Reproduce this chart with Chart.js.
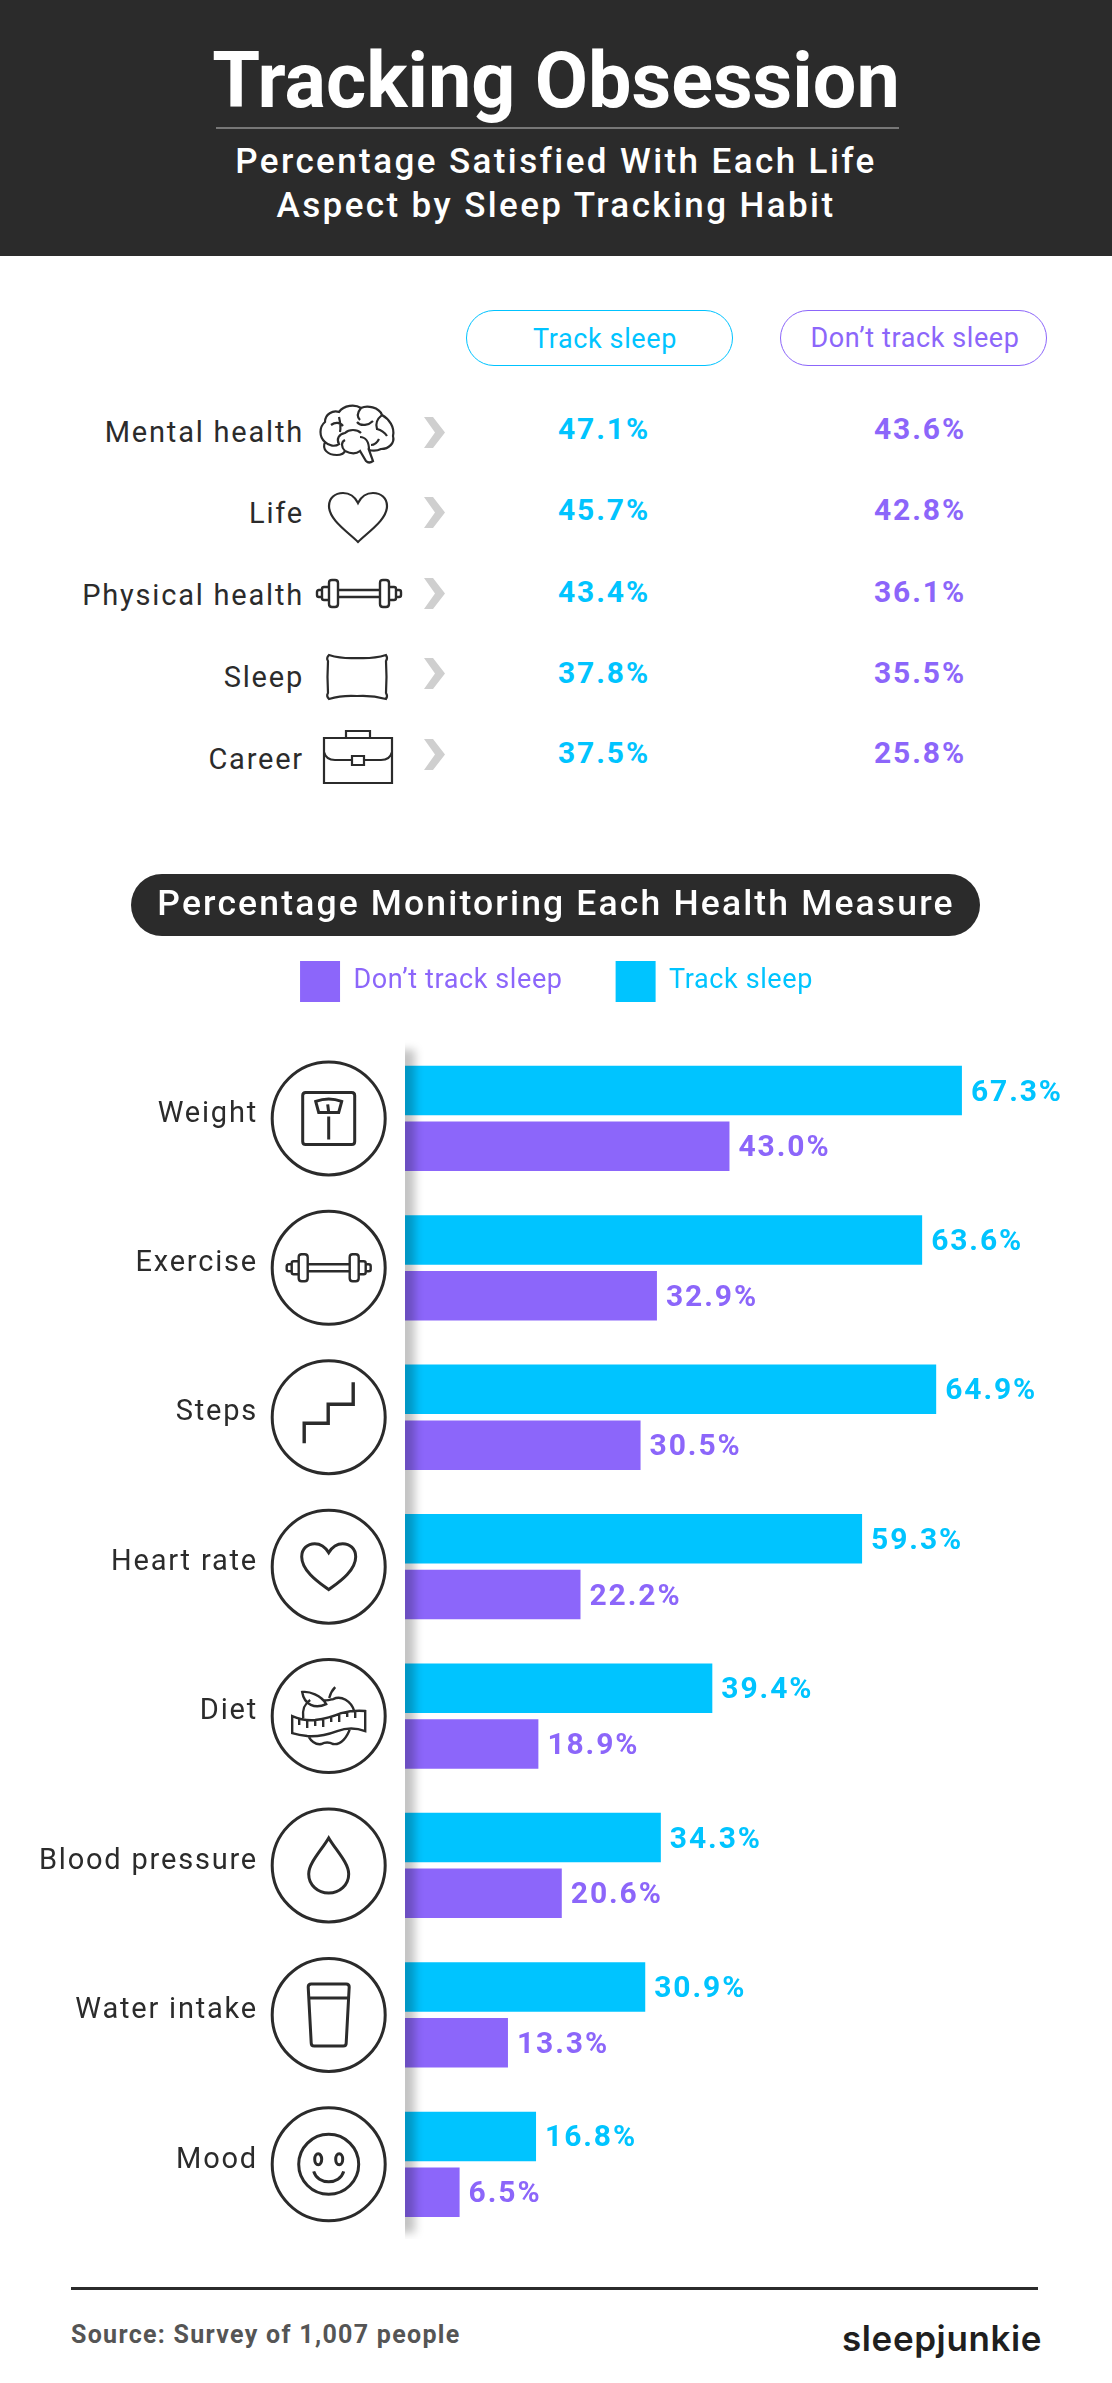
<!DOCTYPE html>
<html>
<head>
<meta charset="utf-8">
<title>Tracking Obsession</title>
<script src="https://cdn.jsdelivr.net/npm/chart.js@4"></script>
<style>
  html, body { margin: 0; padding: 0; background: #fff; }
  #page { position: relative; width: 1112px; height: 2383px; overflow: hidden; font-family: Roboto, sans-serif; }
  #header { position: absolute; left: 0; top: 0; width: 1112px; height: 256px; background: #2b2b2b; }
  #titleRule { position: absolute; left: 216px; top: 127px; width: 683px; height: 2px; background: #777; }
  #measurePill { position: absolute; left: 131px; top: 874px; width: 849px; height: 62px; border-radius: 31px; background: #2b2b2b; }
  .pill { position: absolute; top: 310px; height: 54px; width: 265px; border-radius: 28px; border: 1.5px solid; background: #fff; }
  .t { position: absolute; line-height: 0; white-space: nowrap; }
  #footRule { position: absolute; left: 71px; top: 2287px; width: 967px; height: 3px; background: #2b2b2b; }
  #barCanvas { position: absolute; left: 0; top: 908px; }
  svg { position: absolute; overflow: visible; }
</style>
</head>
<body>
<div id="page">
  <div id="header"></div>
  <div id="titleRule"></div>
  <div id="measurePill"></div>
  <div class="pill" style="left:466px;border-color:#00c3ff"></div>
  <div class="pill" style="left:780px;border-color:#8c66fa"></div>
  <div id="footRule"></div>
  <canvas id="barCanvas" width="1112" height="1331"></canvas>
</div>

<script>
const CYAN = '#00c4ff';
const PURPLE = '#8c66fa';
const INK = '#2b2b2b';

// upper table
const lifeAspects = ['Mental health', 'Life', 'Physical health', 'Sleep', 'Career'];
const aspectIcons = ['brain', 'loveHeart', 'dumbbell', 'pillow', 'briefcase'];
const satisfiedTrack = ['47.1%', '45.7%', '43.4%', '37.8%', '37.5%'];
const satisfiedNoTrack = ['43.6%', '42.8%', '36.1%', '35.5%', '25.8%'];

// bar chart
const measures = ['Weight', 'Exercise', 'Steps', 'Heart rate', 'Diet', 'Blood pressure', 'Water intake', 'Mood'];
const measureIcons = ['scale', 'dumbbell', 'steps', 'heart', 'diet', 'drop', 'glass', 'smile'];
// printed on the picture
const trackLabels = ['67.3%', '63.6%', '64.9%', '59.3%', '39.4%', '34.3%', '30.9%', '16.8%'];
const noTrackLabels = ['43.0%', '32.9%', '30.5%', '22.2%', '18.9%', '20.6%', '13.3%', '6.5%'];
// bar lengths as drawn on the picture, they do not always agree with the printed number
const trackBars = [71.4, 66.3, 68.1, 58.6, 39.4, 32.8, 30.8, 16.8];
const noTrackBars = [41.6, 32.3, 30.2, 22.5, 17.1, 20.1, 13.2, 7.0];

// line icons, w/h is the size of the drawing box
const ICONS = {
  brain: { w: 76, h: 58, lw: 2.2, d: 'M18 50C8 50 3 44 6 37C0 32 0 22 6 17C6 9 14 5 20 7C25 0 36-1 42 3C48 0 60 2 63 10C70 14 76 22 74 31C76 38 70 44 62 44C58 46 54 46 50 45L54 56Q50 59 47 56L41 46C36 50 30 48 26 46C24 50 21 50 18 50ZM6 37C10 41 16 42 20 39C17 34 20 29 26 28C30 24 38 24 42 28M12 20C16 17 21 17 24 21M20 12C21 16 22 22 21 27M42 3C38 8 38 12 41 15M38 17C42 22 50 20 54 16M63 10C58 14 56 18 58 24C62 25 66 28 68 31M26 46C22 42 22 37 26 35M41 32C46 32 50 36 50 45M60 34C58 38 56 40 52 40'},
  loveHeart: { w: 60, h: 51, lw: 2.2, d: 'M30 50C20 40 1 28 1 14C1 6 7 1 15 1C22 1 27 5 30 11C33 5 38 1 45 1C53 1 59 6 59 14C59 28 40 40 30 50Z' },
  heart: { w: 56, h: 48, lw: 3, d: 'M28 47C20 41 1 29 1 14C1 6 7 1 14 1C21 1 25 5 28 10C31 5 35 1 42 1C49 1 55 6 55 14C55 29 36 41 28 47Z' },
  dumbbell: { w: 86, h: 29, lw: 2.4, d: 'M22 11H64M22 18H64M13 4Q13 1 16 1H19Q22 1 22 4V25Q22 28 19 28H16Q13 28 13 25ZM64 4Q64 1 67 1H70Q73 1 73 4V25Q73 28 70 28H67Q64 28 64 25ZM13 8H8Q6 8 6 10V19Q6 21 8 21H13M6 11H3Q1 11 1 13V16Q1 18 3 18H6M73 8H78Q80 8 80 10V19Q80 21 78 21H73M80 11H83Q85 11 85 13V16Q85 18 83 18H80' },
  pillow: { w: 63, h: 48, lw: 2.2, d: 'M3 2Q16 6 31 5Q47 6 60 2Q62 5 60 8Q61 24 60 40Q62 43 60 46Q46 42 31 43Q16 42 3 46Q0 43 2 40Q1 24 2 8Q0 5 3 2Z' },
  briefcase: { w: 70, h: 54, lw: 2.2, d: 'M1 8H69V53H1ZM23 8V1H47V8M1 22Q3 30 12 30H29M41 30H58Q67 30 69 22M29 26H41V35H29Z' },
  scale: { w: 54, h: 54, lw: 3, d: 'M4 1H50Q53 1 53 4V50Q53 53 50 53H4Q1 53 1 50V4Q1 1 4 1ZM14 10Q27 5 40 10L37 21H17ZM27 21L26 13M27 25V48' },
  steps: { w: 51, h: 70, lw: 3.4, d: 'M1 61V41H25V22H50V0' },
  diet: { w: 75, h: 58, lw: 2.4, d: 'M1 29Q12 34 24 33Q38 31 50 26Q62 23 74 24V44Q60 39 46 44Q30 50 16 49Q8 48 1 46ZM8 32V38M16 33V41M24 33V39M32 32V40M40 29V35M48 27V35M56 24V30M64 23V31M12 31C11 22 13 17 19 13M63 24C60 14 50 8 42 12C38 13 35 14 33 13M17 49C20 54 24 58 30 57C34 55 38 55 42 57C50 58 56 50 59 41M11 5C18 4 30 8 35 17C24 22 13 18 11 5ZM38 11C39 7 41 3 44 0' },
  drop: { w: 42, h: 57, lw: 3, d: 'M21 1C14 13 1 26 1 37C1 48 10 56 21 56C32 56 41 48 41 37C41 26 28 13 21 1Z' },
  glass: { w: 43, h: 64, lw: 3, d: 'M4 1H39Q42 1 42 4L39 60Q39 63 36 63H7Q4 63 4 60L1 4Q1 1 4 1ZM1 15H42' },
  smile: { w: 62, h: 62, lw: 3, d: 'M61 31A30 30 0 1 1 1 31A30 30 0 1 1 61 31ZM24 26A3.5 5.5 0 1 1 17 26A3.5 5.5 0 1 1 24 26ZM45 26A3.5 5.5 0 1 1 38 26A3.5 5.5 0 1 1 45 26ZM16 38C20 52 42 52 46 38' }
};

const page = document.getElementById('page');

// puts text with its baseline on y
function addText(text, x, y, size, weight, color, spacing, align) {
  const el = document.createElement('div');
  el.className = 't';
  el.textContent = text;
  el.style.fontSize = size + 'px';
  el.style.fontWeight = weight;
  el.style.color = color;
  el.style.letterSpacing = spacing + 'px';
  el.style.top = (y - 0.341 * size) + 'px';
  if (align === 'right') el.style.right = (1112 - x) + 'px';
  else if (align === 'center') { el.style.left = x + 'px'; el.style.transform = 'translateX(-50%)'; }
  else el.style.left = x + 'px';
  page.appendChild(el);
  return el;
}

function addIcon(name, x, y, w, h) {
  const icon = ICONS[name];
  const svg = document.createElementNS('http://www.w3.org/2000/svg', 'svg');
  svg.setAttribute('viewBox', '0 0 ' + icon.w + ' ' + icon.h);
  svg.setAttribute('width', w);
  svg.setAttribute('height', h);
  svg.style.left = x + 'px';
  svg.style.top = y + 'px';
  const path = document.createElementNS('http://www.w3.org/2000/svg', 'path');
  path.setAttribute('d', icon.d);
  path.setAttribute('fill', 'none');
  path.setAttribute('stroke', INK);
  path.setAttribute('stroke-width', icon.lw);
  svg.appendChild(path);
  page.appendChild(svg);
}

addText('Tracking Obsession', 556, 107, 77.3, 700, '#fff', 0, 'center');
addText('Percentage Satisfied With Each Life', 556, 174, 35, 500, '#fff', 2.4, 'center');
addText('Aspect by Sleep Tracking Habit', 556, 218, 35, 500, '#fff', 2.4, 'center');
addText('Track sleep', 605, 348, 27, 400, CYAN, 0.6, 'center');
addText("Don\u2019t track sleep", 915, 347, 27, 400, PURPLE, 0.6, 'center');
addText('Percentage Monitoring Each Health Measure', 556, 915, 35.5, 500, '#fff', 2.15, 'center');
addText('Source: Survey of 1,007 people', 71, 2344, 25, 700, '#555', 1.3);
const logo = addText('sleepjunkie', 842, 2350, 35, 600, '#1f1f1f', 0.6);
logo.style.fontFamily = 'Inter, sans-serif';

// upper table rows
const rowBaseline = [442, 523, 605, 687, 769];
const valueBaseline = [439, 520, 602, 683, 763];
const chevronTop = [417, 497, 578, 658, 739];
const iconBox = [[319, 405, 76, 58], [328, 492, 60, 51], [316, 579, 86, 29], [326, 653, 63, 48], [323, 730, 70, 54]];

lifeAspects.forEach((name, i) => {
  addText(name, 304, rowBaseline[i], 29, 400, INK, 1.8, 'right');
  addText(satisfiedTrack[i], 558, valueBaseline[i], 30, 700, CYAN, 1.9);
  addText(satisfiedNoTrack[i], 874, valueBaseline[i], 30, 700, PURPLE, 1.9);
  addIcon(aspectIcons[i], iconBox[i][0], iconBox[i][1], iconBox[i][2], iconBox[i][3]);

  const chev = document.createElementNS('http://www.w3.org/2000/svg', 'svg');
  chev.setAttribute('width', 21);
  chev.setAttribute('height', 31);
  chev.style.left = '424px';
  chev.style.top = chevronTop[i] + 'px';
  chev.innerHTML = '<polygon points="0,0 9,0 21,15.5 9,31 0,31 11,15.5" fill="#cfcfcf"/>';
  page.appendChild(chev);
});

// legend needs its own height and tighter text than the axis labels
const legendTweaks = {
  id: 'legendTweaks',
  beforeInit(chart) {
    const legend = chart.legend;
    const fit = legend.fit;
    const draw = legend.draw;
    legend.fit = function () {
      chart.ctx.letterSpacing = '0.6px';
      fit.call(this);
      chart.ctx.letterSpacing = '1.8px';
      this.height = 135.7;
    };
    legend.draw = function () {
      const left = this.left;
      this.left = left + 6; // moves the centred row 3px right
      chart.ctx.letterSpacing = '0.6px';
      draw.call(this);
      chart.ctx.letterSpacing = '1.8px';
      this.left = left;
    };
  }
};

// canvas text has no letter spacing option in Chart.js, and a resize clears it
const canvasSpacing = {
  id: 'canvasSpacing',
  beforeUpdate(chart) { chart.ctx.letterSpacing = '1.8px'; },
  beforeDraw(chart) { chart.ctx.letterSpacing = '1.8px'; }
};

const barExtras = {
  id: 'barExtras',
  afterDatasetsDraw(chart) {
    const ctx = chart.ctx;
    const area = chart.chartArea;
    const yScale = chart.scales.y;

    // soft shadow next to the axis
    ctx.save();
    ctx.beginPath();
    ctx.rect(area.left, 0, 40, chart.height);
    ctx.clip();
    ctx.filter = 'blur(4px)';
    ctx.fillStyle = 'rgba(0,0,0,0.23)';
    ctx.fillRect(area.left - 8, area.top + 6, 18, area.bottom - area.top - 12);
    ctx.restore();

    // printed percentages
    ctx.save();
    ctx.font = '700 30px Roboto';
    ctx.letterSpacing = '1.9px';
    ctx.textBaseline = 'alphabetic';
    chart.data.datasets.forEach((ds, d) => {
      const labels = d === 0 ? trackLabels : noTrackLabels;
      ctx.fillStyle = ds.backgroundColor;
      chart.getDatasetMeta(d).data.forEach((bar, i) => {
        ctx.fillText(labels[i], bar.x + 9, bar.y + 10);
      });
    });
    ctx.restore();

    // icons in circles
    ctx.save();
    ctx.strokeStyle = INK;
    measures.forEach((m, i) => {
      const cy = yScale.getPixelForValue(i);
      const cx = 328.7;
      ctx.lineWidth = 3;
      ctx.beginPath();
      ctx.arc(cx, cy, 56.5, 0, Math.PI * 2);
      ctx.stroke();
      const icon = ICONS[measureIcons[i]];
      ctx.save();
      ctx.translate(cx - icon.w / 2, cy - icon.h / 2);
      ctx.lineWidth = icon.lw;
      ctx.stroke(new Path2D(icon.d));
      ctx.restore();
    });
    ctx.restore();
  }
};

new Chart(document.getElementById('barCanvas').getContext('2d'), {
  type: 'bar',
  plugins: [legendTweaks, canvasSpacing, barExtras],
  data: {
    labels: measures,
    datasets: [
      { label: 'Track sleep', data: trackBars, backgroundColor: CYAN },
      { label: "Don\u2019t track sleep", data: noTrackBars, backgroundColor: PURPLE }
    ]
  },
  options: {
    indexAxis: 'y',
    responsive: false,
    animation: false,
    devicePixelRatio: 1,
    layout: { padding: { left: 0, right: 5, top: 0, bottom: 0 } },
    datasets: { bar: { categoryPercentage: 0.747, barPercentage: 0.887 } },
    scales: {
      x: { display: false, min: 0, max: 90 },
      y: {
        // tick padding also pads the ends of a vertical axis, that is not wanted here
        afterFit(scale) {
          scale.width = 405;
          scale.paddingTop = 0;
          scale.paddingBottom = 0;
        },
        grid: { display: false, drawTicks: false },
        border: { display: false },
        ticks: {
          autoSkip: false,
          padding: 147,
          labelOffset: -4,
          color: INK,
          font: { family: 'Roboto', size: 29, weight: '400' }
        }
      }
    },
    plugins: {
      tooltip: { enabled: false },
      legend: {
        reverse: true,
        onClick: null,
        labels: {
          boxWidth: 40,
          boxHeight: 41,
          padding: 53,
          font: { family: 'Roboto', size: 27 },
          generateLabels(chart) {
            return Chart.defaults.plugins.legend.labels.generateLabels(chart).map(item => {
              item.fontColor = item.fillStyle;
              item.lineWidth = 0;
              return item;
            });
          }
        }
      }
    }
  }
});
</script>
</body>
</html>
